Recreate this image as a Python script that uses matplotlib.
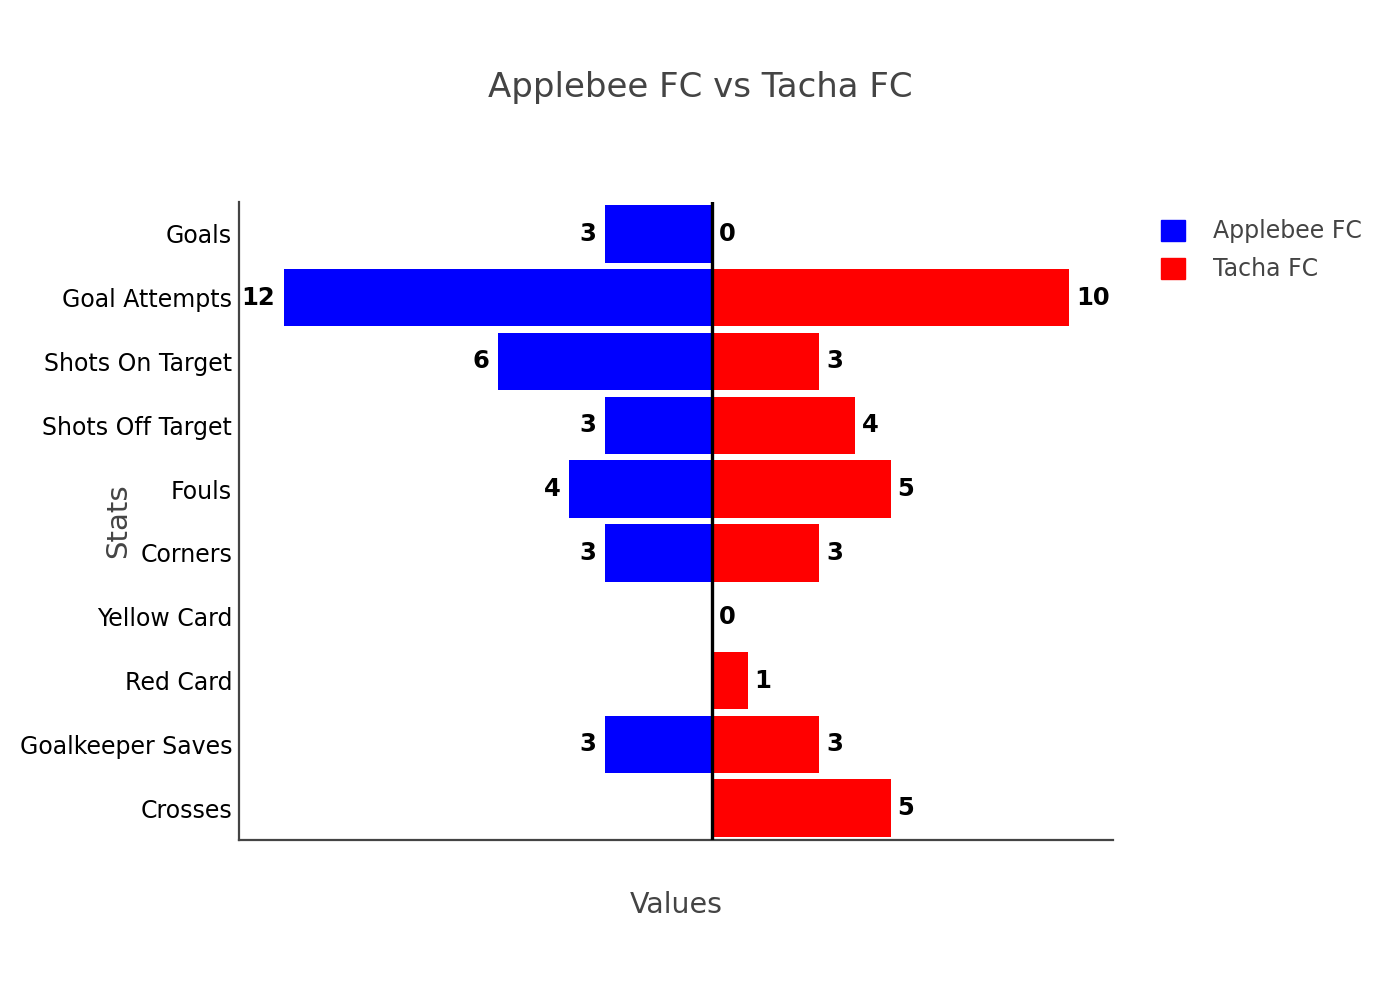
import numpy as np
import matplotlib
matplotlib.use("Agg")
import matplotlib.pyplot as plt
from matplotlib.patches import Patch

stats = ["Goals", "Goal Attempts", "Shots On Target", "Shots Off Target", "Fouls",
         "Corners", "Yellow Card", "Red Card", "Goalkeeper Saves", "Crosses"]
applebee = [3, 12, 6, 3, 4, 3, None, None, 3, None]
tacha = [0, 10, 3, 4, 5, 3, 0, 1, 3, 5]

blue = "#0000ff"
red = "#ff0000"
grey = "#444444"

fig = plt.figure(figsize=(14, 10), dpi=100)
ax = fig.add_axes([239 / 1400, 0.16, (1113 - 239) / 1400, 0.638])

y = np.arange(len(stats))
a_vals = np.array([np.nan if v is None else -v for v in applebee], dtype=float)
t_vals = np.array(tacha, dtype=float)

ax.barh(y, a_vals, height=0.9, color=blue, label="Applebee FC")
ax.barh(y, t_vals, height=0.9, color=red, label="Tacha FC")

# value labels outside the bars
for yi, v in zip(y, applebee):
    if v is None:
        continue
    ax.annotate(str(v), (-v, yi), xytext=(-6, 0), textcoords="offset points",
                ha="right", va="center", fontsize=17.5, fontweight="bold", color="black")
for yi, v in zip(y, tacha):
    ax.annotate(str(v), (v, yi), xytext=(5, 0), textcoords="offset points",
                ha="left", va="center", fontsize=17.5, fontweight="bold", color="black")

ax.axvline(0, color="black", lw=2.4, zorder=5)

ax.set_xlim(-13.25, 11.23)
ax.set_ylim(9.5, -0.5)
ax.set_yticks(y)
ax.set_yticklabels(stats, fontsize=17, color="black")
ax.set_xticks([])
ax.tick_params(axis="y", length=0, pad=5)

for s in ["top", "right"]:
    ax.spines[s].set_visible(False)
for s in ["left", "bottom"]:
    ax.spines[s].set_color(grey)
    ax.spines[s].set_linewidth(1.6)

ax.set_xlabel("Values", fontsize=20.5, color=grey)
ax.xaxis.set_label_coords(0.5, -0.08)
ax.set_ylabel("Stats", fontsize=21, color=grey)
ax.yaxis.set_label_coords(-0.122, 0.5)

fig.text(0.5, 0.912, "Applebee FC vs Tacha FC", ha="center", va="center",
         fontsize=24.5, color=grey)

handles = [Patch(color=blue), Patch(color=red)]
fig.legend(handles, ["Applebee FC", "Tacha FC"], loc="upper left",
           bbox_to_anchor=(1140 / 1400, 1 - 198 / 1000), frameon=False,
           fontsize=17, labelcolor=grey, handlelength=1.0, handleheight=1.0,
           handletextpad=1.2, labelspacing=0.6)

fig.savefig("out.png", dpi=100, facecolor="white")
